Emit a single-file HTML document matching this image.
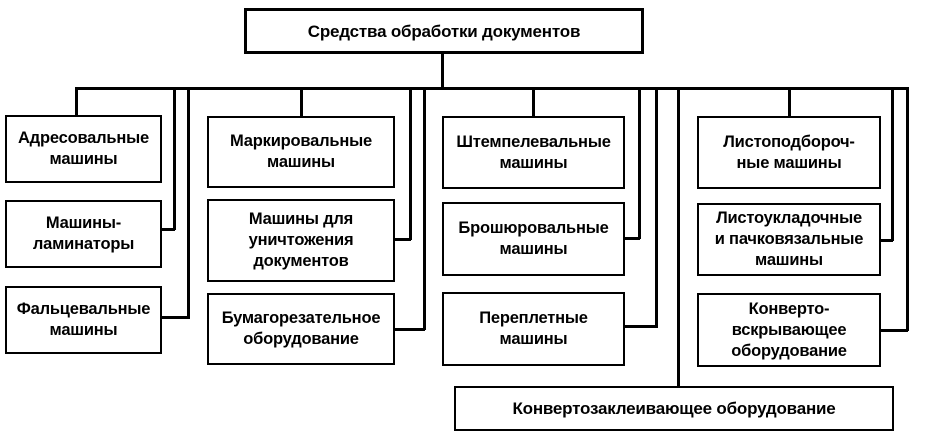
<!DOCTYPE html>
<html><head><meta charset="utf-8"><style>
body{margin:0;background:#fff;width:925px;height:441px;overflow:hidden;position:relative;font-family:"Liberation Sans","Noto Sans CJK SC",sans-serif;}
.b{position:absolute;border:2.5px solid #000;box-sizing:border-box;display:flex;align-items:center;justify-content:center;text-align:center;font-size:16.5px;font-weight:bold;line-height:21px;color:#000;white-space:nowrap;letter-spacing:-0.2px;}
.h{position:absolute;height:2.5px;background:#000;}
.v{position:absolute;width:2.5px;background:#000;}
</style></head><body>
<div class="b" style="left:244px;top:8px;width:400px;height:46px;border-width:3px;font-size:17px">Средства обработки документов</div>
<div class="v" style="left:441px;top:53px;height:36px"></div>
<div class="h" style="left:75px;top:87px;width:834px"></div>

<div class="v" style="left:75px;top:88px;height:28px"></div>
<div class="b" style="left:5px;top:115px;width:157px;height:68px">Адресовальные<br>машины</div>
<div class="b" style="left:5px;top:200px;width:157px;height:68px">Машины-<br>ламинаторы</div>
<div class="b" style="left:5px;top:286px;width:157px;height:68px">Фальцевальные<br>машины</div>
<div class="v" style="left:173px;top:88px;height:142px"></div>
<div class="h" style="left:161px;top:228px;width:14px"></div>
<div class="v" style="left:187px;top:88px;height:231px"></div>
<div class="h" style="left:161px;top:316px;width:28px"></div>

<div class="v" style="left:300px;top:88px;height:29px"></div>
<div class="b" style="left:207px;top:116px;width:188px;height:72px">Маркировальные<br>машины</div>
<div class="b" style="left:207px;top:199px;width:188px;height:83px">Машины для<br>уничтожения<br>документов</div>
<div class="b" style="left:207px;top:293px;width:188px;height:72px">Бумагорезательное<br>оборудование</div>
<div class="v" style="left:409px;top:88px;height:152px"></div>
<div class="h" style="left:394px;top:238px;width:17px"></div>
<div class="v" style="left:423px;top:88px;height:242px"></div>
<div class="h" style="left:394px;top:328px;width:31px"></div>

<div class="v" style="left:532px;top:88px;height:29px"></div>
<div class="b" style="left:442px;top:116px;width:183px;height:73px">Штемпелевальные<br>машины</div>
<div class="b" style="left:442px;top:202px;width:183px;height:74px">Брошюровальные<br>машины</div>
<div class="b" style="left:442px;top:292px;width:183px;height:74px">Переплетные<br>машины</div>
<div class="v" style="left:638px;top:88px;height:151px"></div>
<div class="h" style="left:624px;top:237px;width:16px"></div>
<div class="v" style="left:655px;top:88px;height:240px"></div>
<div class="h" style="left:624px;top:325px;width:33px"></div>

<div class="v" style="left:677px;top:88px;height:299px"></div>
<div class="b" style="left:454px;top:386px;width:440px;height:45px;font-size:17px">Конвертозаклеивающее оборудование</div>

<div class="v" style="left:788px;top:88px;height:29px"></div>
<div class="b" style="left:697px;top:116px;width:184px;height:73px">Листоподбороч-<br>ные машины</div>
<div class="b" style="left:697px;top:203px;width:184px;height:73px">Листоукладочные<br>и пачковязальные<br>машины</div>
<div class="b" style="left:697px;top:293px;width:184px;height:74px">Конверто-<br>вскрывающее<br>оборудование</div>
<div class="v" style="left:891px;top:88px;height:153px"></div>
<div class="h" style="left:880px;top:239px;width:13px"></div>
<div class="v" style="left:906px;top:88px;height:243px"></div>
<div class="h" style="left:880px;top:329px;width:28px"></div>
</body></html>
